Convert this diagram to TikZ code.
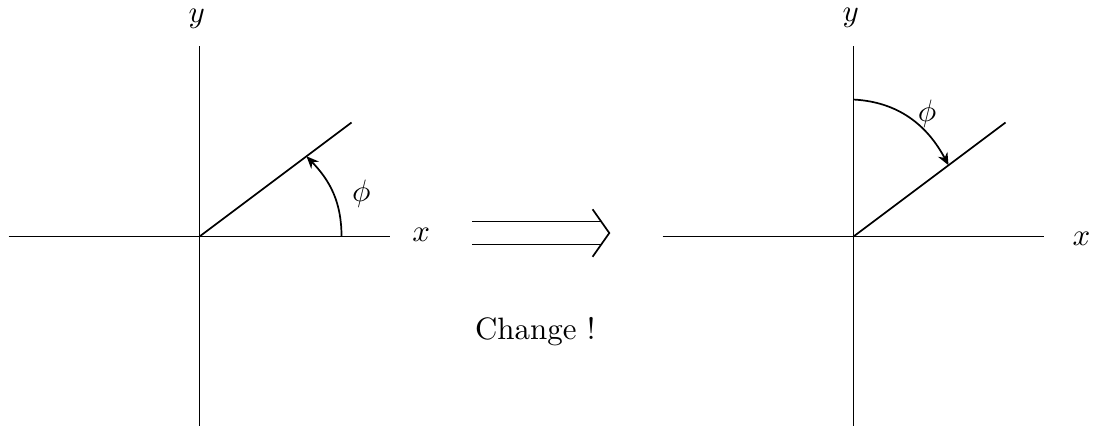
\documentclass[tikz,border=0pt]{standalone}
\usepackage{amsmath,amssymb}
\usetikzlibrary{arrows.meta}

\begin{document}
\begin{tikzpicture}[>={Stealth[length=4pt,width=3.4pt]}, line width=0.55pt,
 lbl/.style={inner sep=1pt}]
\useasboundingbox (-2.267,-2.165) rectangle (10.222,2.688);
% left: angle measured from the x axis
\coordinate (o1) at (0,0);
\coordinate (xl1) at (-2.17,0);
\coordinate (xr1) at (2.17,0);
\coordinate (yb1) at (0,-2.15);
\coordinate (yt1) at (0,2.17);
\coordinate (ray1) at (36.87:2.16);
\draw (xl1)--(xr1);
\draw (yb1)--(yt1);
\draw (o1)--(ray1);
\coordinate (a1) at (0:1.614);
\coordinate (b1) at (36.87:1.52);
\draw[->] (a1) to[out=90,in=-46] (b1);
\node[lbl] (x1) at (2.52,0.02) {$x$};
\node[lbl] (y1) at (-0.03,2.47) {$y$};
\node[lbl] (phi1) at (1.84,0.49) {$\phi$};
% the big implication arrow
\coordinate (dl1) at (3.097,0.17);
\coordinate (dr1) at (4.566,0.17);
\coordinate (dl2) at (3.097,-0.09);
\coordinate (dr2) at (4.566,-0.09);
\coordinate (imp) at (4.657,0.04);
\coordinate (impt) at (4.467,0.31);
\coordinate (impb) at (4.467,-0.23);
\draw (dl1)--(dr1);
\draw (dl2)--(dr2);
\draw (impt)--(imp)--(impb);
\node[anchor=base] (chg) at (3.816,-1.165) {Change !};
% right: angle measured from the y axis
\begin{scope}[xshift=7.432cm]
\coordinate (o2) at (0,0);
\coordinate (xl2) at (-2.17,0);
\coordinate (xr2) at (2.17,0);
\coordinate (yb2) at (0,-2.15);
\coordinate (yt2) at (0,2.17);
\coordinate (ray2) at (36.87:2.16);
\draw (xl2)--(xr2);
\draw (yb2)--(yt2);
\draw (o2)--(ray2);
\coordinate (a2) at (90:1.557);
\coordinate (b2) at (36.87:1.35);
\draw[->] (a2) to[out=-3,in=118] (b2);
\node[lbl] (x2) at (2.59,-0.03) {$x$};
\node[lbl] (y2) at (-0.03,2.48) {$y$};
\node[lbl] (phi2) at (0.835,1.40) {$\phi$};
\end{scope}
\end{tikzpicture}
\end{document}
